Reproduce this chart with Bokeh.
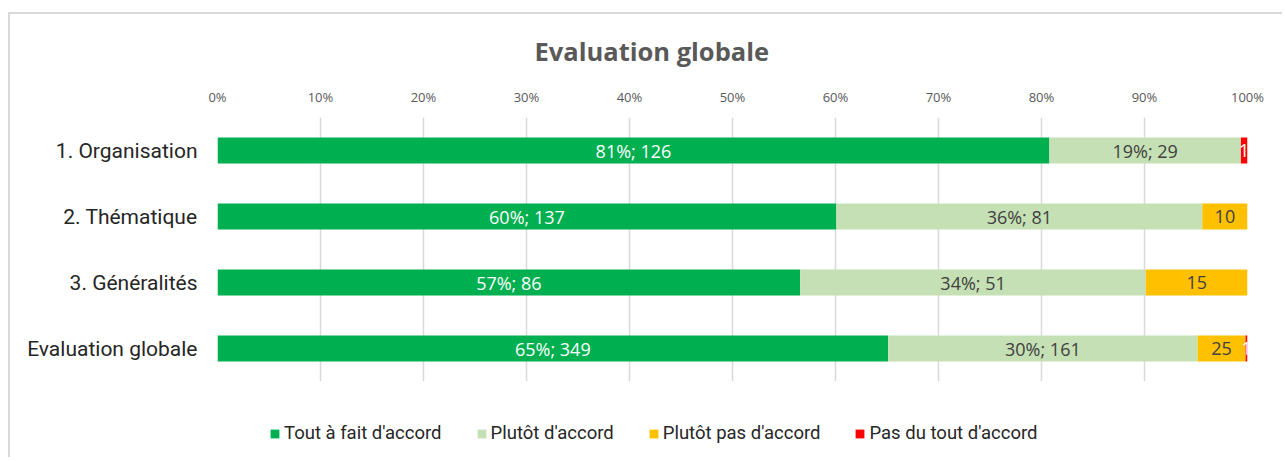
from bokeh.plotting import figure
from bokeh.layouts import column
from bokeh.models import (ColumnDataSource, FactorRange, Range1d, FixedTicker,
                          NumeralTickFormatter, Legend, LegendItem)
from bokeh.core.properties import value
from bokeh.embed import file_html
from bokeh.resources import INLINE

# ---- data ----
categories = ["1. Organisation", "2. Thématique", "3. Généralités", "Evaluation globale"]
series = ["Tout à fait d'accord", "Plutôt d'accord", "Plutôt pas d'accord", "Pas du tout d'accord"]
tout_a_fait = [126, 137, 86, 349]
plutot = [29, 81, 51, 161]
plutot_pas = [0, 10, 15, 25]
pas_du_tout = [1, 0, 0, 1]
tick_values = [0, 0.1, 0.2, 0.3, 0.4, 0.5, 0.6, 0.7, 0.8, 0.9, 1.0]

colors = ["#00B050", "#C5E0B4", "#FFC000", "#FF0000"]
label_colors = ["white", "#404040", "#404040", "white"]
keys = ["s0", "s1", "s2", "s3"]
counts = [tout_a_fait, plutot, plutot_pas, pas_du_tout]

totals = [sum(v) for v in zip(*counts)]
data = {"cat": categories}
for k, c in zip(keys, counts):
    data[k] = [n / t for n, t in zip(c, totals)]
src = ColumnDataSource(data)

# data labels
lx, ly, lt, lc = [], [], [], []
for i, cat in enumerate(categories):
    cum = 0.0
    for j, c in enumerate(counts):
        n = c[i]
        frac = n / totals[i]
        if n > 0:
            lx.append(cum + frac / 2)
            ly.append(cat)
            lt.append(f"{round(frac * 100)}%; {n}" if j < 2 else f"{n}")
            lc.append(label_colors[j])
        cum += frac
lsrc = ColumnDataSource(dict(x=lx, y=ly, text=lt, color=lc))

W, H = 1272, 388
p = figure(width=W, height=H, output_backend="svg", toolbar_location=None,
           y_range=FactorRange(*reversed(categories)), x_range=Range1d(0, 1),
           x_axis_location="above",
           min_border_left=207, min_border_right=35, min_border_top=99, min_border_bottom=21)
p.outline_line_color = None

renderers = p.hbar_stack(keys, y="cat", height=0.395, color=colors, source=src,
                         line_color=None)

p.text(x="x", y="y", text="text", text_color="color", source=lsrc,
       text_align="center", text_baseline="middle",
       text_font=value("Open Sans"), text_font_size="18px")

# axes
xa = p.xaxis[0]
xa.ticker = FixedTicker(ticks=tick_values)
xa.formatter = NumeralTickFormatter(format="0%")
xa.axis_line_color = None
xa.major_tick_line_color = None
xa.minor_tick_line_color = None
xa.major_tick_out = 0
xa.major_tick_in = 0
xa.major_label_standoff = 12
xa.major_label_text_font = "Open Sans"
xa.major_label_text_font_size = "13px"
xa.major_label_text_color = "#595959"

ya = p.yaxis[0]
ya.axis_line_color = None
ya.major_tick_line_color = None
ya.minor_tick_line_color = None
ya.major_tick_out = 0
ya.major_tick_in = 0
ya.major_label_standoff = 20
ya.major_label_text_font = "Roboto"
ya.major_label_text_font_size = "21px"
ya.major_label_text_color = "#262626"

p.xgrid.grid_line_color = "#d9d9d9"
p.xgrid.grid_line_width = 1.5
p.ygrid.grid_line_color = None

# title
p.title.text = "Evaluation globale"
p.title.text_font = "Open Sans"
p.title.text_font_style = "bold"
p.title.text_font_size = "25.5px"
p.title.text_color = "#595959"
p.title.align = "left"
p.title.offset = 317
p.title.standoff = 34

# legend in its own strip below the chart (frame aligned with the chart's frame)
LH = 55
p2 = figure(width=W, height=LH, output_backend="svg", toolbar_location=None,
            x_range=Range1d(0, 1), y_range=Range1d(0, 1),
            x_axis_location=None, y_axis_location=None,
            min_border=0, min_border_left=0, min_border_right=0,
            min_border_top=0, min_border_bottom=0)
p2.outline_line_color = None
p2.xgrid.grid_line_color = None
p2.ygrid.grid_line_color = None
dummies = [p2.quad(left=[-3], right=[-2], top=[-2], bottom=[-3], fill_color=c, line_color=None)
           for c in colors]
items = [LegendItem(label=s, renderers=[r]) for s, r in zip(series, dummies)]
legend = Legend(items=items, orientation="horizontal", location=(52, 13),
                glyph_width=11, glyph_height=11, label_standoff=4, spacing=34,
                padding=0, margin=0, border_line_color=None, background_fill_alpha=0,
                label_text_font="Roboto", label_text_font_size="18.5px",
                label_text_color="#262626")
p2.add_layout(legend)

layout = column(p, p2, spacing=0, margin=(12, 0, 0, 8),
                styles={"border-left": "2px solid #d9d9d9", "border-top": "2px solid #d9d9d9",
                        "border-right": "none", "border-bottom": "none"})

open("out.html", "w").write(file_html(layout, INLINE))
